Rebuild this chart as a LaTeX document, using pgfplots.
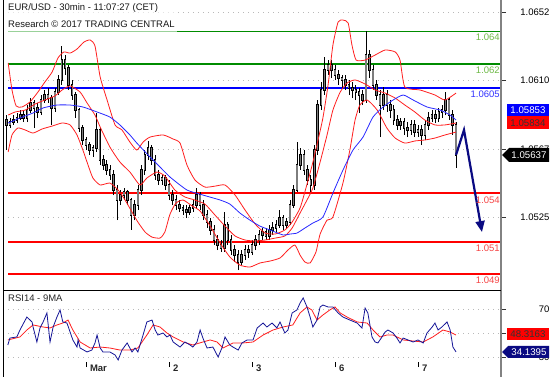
\documentclass[border=0pt]{standalone}
\usepackage{pgfplots}
\pgfplotsset{compat=1.18}
\usepackage{pgfplotstable}
\usepackage{fontspec}
\setmainfont{Liberation Sans}
\usetikzlibrary{arrows.meta}

\definecolor{lvgreen}{RGB}{0,140,0}
\definecolor{lvgreenlab}{RGB}{110,185,70}
\definecolor{lvblue}{RGB}{0,0,255}
\definecolor{lvbluelab}{RGB}{50,50,255}
\definecolor{lvred}{RGB}{255,0,0}
\definecolor{lvredlab}{RGB}{245,70,70}
\definecolor{bbred}{RGB}{255,30,30}
\definecolor{mablue}{RGB}{40,40,255}
\definecolor{navyc}{RGB}{10,10,130}
\definecolor{rsiblue}{RGB}{20,20,150}
\definecolor{candlegray}{RGB}{125,125,125}
\definecolor{gridgray}{RGB}{185,185,185}
\definecolor{axisgray}{RGB}{130,130,130}

\pgfplotstableread{
t o h l c
1 1.05852 1.05883 1.05667 1.05822
2 1.05822 1.05865 1.05803 1.05840
3 1.05840 1.05883 1.05822 1.05852
4 1.05852 1.05896 1.05834 1.05865
5 1.05865 1.05914 1.05852 1.05883
6 1.05883 1.05914 1.05840 1.05865
7 1.05865 1.05945 1.05840 1.05914
8 1.05914 1.05988 1.05896 1.05958
9 1.05958 1.05976 1.05803 1.05927
10 1.05927 1.05958 1.05865 1.05902
11 1.05902 1.06007 1.05883 1.05976
12 1.05976 1.06038 1.05958 1.06007
13 1.06007 1.06050 1.05958 1.05988
14 1.05988 1.06007 1.05822 1.05927
15 1.05927 1.06050 1.05902 1.06025
16 1.06025 1.06131 1.06007 1.06100
17 1.06100 1.06310 1.06069 1.06223
18 1.06223 1.06254 1.06131 1.06174
19 1.06174 1.06192 1.06038 1.06069
20 1.06069 1.06100 1.05976 1.06007
21 1.06007 1.06025 1.05865 1.05914
22 1.05914 1.05927 1.05778 1.05803
23 1.05803 1.05822 1.05698 1.05729
24 1.05729 1.05747 1.05667 1.05698
25 1.05698 1.05716 1.05636 1.05667
26 1.05667 1.05698 1.05624 1.05679
27 1.05679 1.05896 1.05655 1.05791
28 1.05791 1.05803 1.05574 1.05605
29 1.05605 1.05636 1.05543 1.05574
30 1.05574 1.05605 1.05513 1.05543
31 1.05543 1.05574 1.05482 1.05513
32 1.05513 1.05543 1.05389 1.05420
33 1.05420 1.05451 1.05234 1.05358
34 1.05358 1.05420 1.05327 1.05389
35 1.05389 1.05432 1.05358 1.05407
36 1.05407 1.05420 1.05327 1.05358
37 1.05358 1.05370 1.05173 1.05265
38 1.05265 1.05358 1.05234 1.05327
39 1.05327 1.05451 1.05296 1.05420
40 1.05420 1.05574 1.05389 1.05543
41 1.05543 1.05667 1.05513 1.05636
42 1.05636 1.05723 1.05605 1.05679
43 1.05679 1.05698 1.05574 1.05605
44 1.05605 1.05636 1.05482 1.05513
45 1.05513 1.05543 1.05451 1.05482
46 1.05482 1.05513 1.05451 1.05494
47 1.05494 1.05513 1.05420 1.05451
48 1.05451 1.05482 1.05358 1.05389
49 1.05389 1.05420 1.05327 1.05358
50 1.05358 1.05389 1.05296 1.05327
51 1.05327 1.05358 1.05284 1.05309
52 1.05309 1.05327 1.05265 1.05296
53 1.05296 1.05327 1.05247 1.05284
54 1.05284 1.05327 1.05265 1.05309
55 1.05309 1.05358 1.05284 1.05327
56 1.05327 1.05432 1.05309 1.05389
57 1.05389 1.05407 1.05296 1.05327
58 1.05327 1.05358 1.05234 1.05265
59 1.05265 1.05296 1.05185 1.05222
60 1.05222 1.05247 1.05142 1.05173
61 1.05173 1.05204 1.05080 1.05111
62 1.05111 1.05142 1.05049 1.05080
63 1.05080 1.05111 1.05037 1.05061
64 1.05061 1.05284 1.05037 1.05204
65 1.05204 1.05222 1.05080 1.05111
66 1.05111 1.05142 1.05018 1.05049
67 1.05049 1.05080 1.04975 1.05018
68 1.05018 1.05049 1.04925 1.04975
69 1.04975 1.05049 1.04956 1.05018
70 1.05018 1.05080 1.04987 1.05049
71 1.05049 1.05080 1.05000 1.05037
72 1.05037 1.05111 1.05018 1.05080
73 1.05080 1.05142 1.05049 1.05111
74 1.05111 1.05173 1.05080 1.05142
75 1.05142 1.05185 1.05111 1.05160
76 1.05160 1.05185 1.05111 1.05136
77 1.05136 1.05204 1.05111 1.05173
78 1.05173 1.05222 1.05142 1.05185
79 1.05185 1.05234 1.05160 1.05204
80 1.05204 1.05296 1.05185 1.05247
81 1.05247 1.05265 1.05173 1.05204
82 1.05204 1.05247 1.05185 1.05222
83 1.05222 1.05358 1.05204 1.05327
84 1.05327 1.05451 1.05309 1.05420
85 1.05420 1.05716 1.05407 1.05574
86 1.05574 1.05679 1.05543 1.05636
87 1.05636 1.05667 1.05513 1.05543
88 1.05543 1.05574 1.05451 1.05482
89 1.05482 1.05513 1.05407 1.05451
90 1.05451 1.05698 1.05420 1.05667
91 1.05667 1.05976 1.05636 1.05945
92 1.05945 1.06087 1.05914 1.06038
93 1.06038 1.06242 1.06007 1.06161
94 1.06161 1.06223 1.06131 1.06192
95 1.06192 1.06223 1.06112 1.06161
96 1.06161 1.06192 1.06100 1.06131
97 1.06131 1.06161 1.06069 1.06112
98 1.06112 1.06131 1.06050 1.06100
99 1.06100 1.06131 1.06038 1.06069
100 1.06069 1.06100 1.06007 1.06050
101 1.06050 1.06087 1.05988 1.06038
102 1.06038 1.06069 1.05976 1.06025
103 1.06025 1.06050 1.05896 1.06007
104 1.06007 1.06038 1.05945 1.05976
105 1.05976 1.06402 1.05958 1.06254
106 1.06254 1.06285 1.06112 1.06161
107 1.06161 1.06192 1.06038 1.06069
108 1.06069 1.06100 1.05976 1.06007
109 1.06007 1.06038 1.05747 1.05945
110 1.05945 1.06056 1.05914 1.06007
111 1.06007 1.06038 1.05902 1.05945
112 1.05945 1.05976 1.05865 1.05914
113 1.05914 1.05945 1.05822 1.05852
114 1.05852 1.05883 1.05791 1.05822
115 1.05822 1.05865 1.05791 1.05840
116 1.05840 1.05865 1.05760 1.05803
117 1.05803 1.05840 1.05747 1.05791
118 1.05791 1.05852 1.05760 1.05822
119 1.05822 1.05852 1.05747 1.05778
120 1.05778 1.05822 1.05747 1.05791
121 1.05791 1.05822 1.05698 1.05760
122 1.05760 1.05852 1.05729 1.05822
123 1.05822 1.05902 1.05791 1.05865
124 1.05865 1.05914 1.05840 1.05883
125 1.05883 1.05914 1.05834 1.05865
126 1.05865 1.05927 1.05840 1.05902
127 1.05902 1.05945 1.05865 1.05914
128 1.05914 1.06025 1.05883 1.05976
129 1.05976 1.05988 1.05852 1.05883
130 1.05883 1.05914 1.05760 1.05822
131 1.05822 1.05840 1.05556 1.05637
}\candles
\pgfplotstablecreatecol[expr={min(\thisrow{o},\thisrow{c})}]{bot}\candles
\pgfplotstablecreatecol[expr={abs(\thisrow{c}-\thisrow{o})}]{body}\candles
\pgfplotstablecreatecol[expr={\thisrow{h}-\thisrow{l}}]{rng}\candles

\newcommand{\lab}{\fontsize{9.5}{11}\selectfont}
\newcommand{\tagf}{\fontsize{9.7}{11}\selectfont}

\begin{document}
\begin{tikzpicture}
\useasboundingbox (0,0) rectangle (558pt,-377pt);

% ---------------- main price panel ----------------
\begin{axis}[
  at={(3pt,0pt)}, anchor=north west,
  width=498pt, height=291pt, scale only axis,
  xmin=0, xmax=144, ymin=1.04796, ymax=1.06594,
  axis x line=none, axis y line*=right,
  y axis line style={draw=none},
  ytick={1.0525,1.0567,1.0610,1.0652},
  yticklabels={1.0525,1.0567,1.0610,1.0652},
  ytick align=outside, major tick length=5pt,
  ytick style={black!80, line width=0.8pt},
  yticklabel style={anchor=east, xshift=47pt, font=\lab, text=black},
  ymajorgrids, grid style={gridgray, line width=0.8pt, dash pattern=on 1pt off 4pt},
]
% horizontal levels
\addplot[lvgreen, line width=1.6pt] coordinates {(1.5,1.064) (144,1.064)};
\addplot[lvgreen, line width=1.6pt] coordinates {(1.5,1.062) (144,1.062)};
\addplot[lvblue, line width=1.6pt] coordinates {(1.5,1.0605) (144,1.0605)};
\addplot[lvred, line width=1.6pt] coordinates {(1.5,1.054) (144,1.054)};
\addplot[lvred, line width=1.6pt] coordinates {(1.5,1.051) (144,1.051)};
\addplot[lvred, line width=1.6pt] coordinates {(1.5,1.049) (144,1.049)};

% candle wicks
\addplot[draw=none, mark=none, error bars/.cd, y dir=plus, y explicit, error mark=none,
  error bar style={draw=black, line width=0.6pt}]
  table[x=t, y=l, y error plus=rng] {\candles};
% candle bodies (outline)
\addplot[draw=none, mark=none, error bars/.cd, y dir=plus, y explicit, error mark=none,
  error bar style={draw=black, line width=2.5pt, line cap=rect}]
  table[x=t, y=bot, y error plus=body] {\candles};
% candle bodies (fill)
\addplot[draw=none, mark=none, error bars/.cd, y dir=plus, y explicit, error mark=none,
  error bar style={draw=candlegray, line width=1.3pt, line cap=butt}]
  table[x=t, y=bot, y error plus=body] {\candles};

% Bollinger upper
\addplot[bbred, line width=0.8pt, smooth, tension=0.35] coordinates {
(1.5,1.06205) (2.6,1.06038) (3.8,1.05939) (5.5,1.05933) (7.8,1.05964) (10.1,1.06025)
(12.1,1.06087) (14.2,1.06149) (15.9,1.06236) (17.6,1.06273) (19.4,1.06266) (21.4,1.06291)
(23.4,1.06334) (25.2,1.06347) (26.6,1.06310) (28.1,1.06118) (30.1,1.05976) (32.4,1.05822)
(34.4,1.05791) (36.7,1.05716) (38.7,1.05667) (40.5,1.05716) (42.5,1.05747) (46.3,1.05760)
(49.2,1.05735) (51.2,1.05710) (53.2,1.05574) (55.5,1.05482) (58.4,1.05438) (61.3,1.05444)
(64.2,1.05451) (67.1,1.05389) (70.0,1.05296) (72.9,1.05210) (75.8,1.05154) (78.7,1.05148)
(81.5,1.05173) (83.6,1.05222) (85.9,1.05309) (87.6,1.05432) (89.4,1.05574) (91.1,1.05729)
(92.5,1.05865) (94.0,1.06069) (95.4,1.06316) (96.9,1.06458) (98.3,1.06470) (99.8,1.06452)
(100.9,1.06316) (102.1,1.06223) (104.7,1.06223) (107.6,1.06254) (110.5,1.06285) (113.4,1.06273)
(114.8,1.06223) (116.2,1.06056) (120.6,1.06038) (124.9,1.06007) (127.8,1.05976) (131.0,1.06019)};
% Bollinger middle
\addplot[bbred, line width=0.8pt, smooth, tension=0.35] coordinates {
(1.5,1.05883) (3.5,1.05902) (6.4,1.05914) (9.3,1.05951) (12.1,1.05976) (15.0,1.06001)
(17.1,1.06038) (19.4,1.06063) (22.3,1.06025) (24.3,1.05958) (26.6,1.05883) (28.1,1.05809)
(30.9,1.05686) (33.8,1.05593) (36.7,1.05531) (39.6,1.05451) (41.6,1.05494) (44.5,1.05531)
(46.8,1.05506) (49.7,1.05420) (52.6,1.05377) (55.5,1.05358) (58.4,1.05333) (61.3,1.05265)
(64.2,1.05197) (67.1,1.05136) (70.0,1.05111) (72.9,1.05105) (75.8,1.05111) (78.7,1.05123)
(81.5,1.05136) (83.6,1.05185) (85.9,1.05278) (87.9,1.05358) (89.6,1.05432) (91.7,1.05593)
(93.7,1.05760) (95.4,1.05914) (97.5,1.06025) (99.5,1.06081) (101.8,1.06100) (104.7,1.06075)
(107.6,1.06038) (110.5,1.06019) (113.4,1.05988) (116.2,1.05945) (119.1,1.05902) (122.0,1.05852)
(124.9,1.05822) (127.8,1.05822) (131.0,1.05834)};
% Bollinger lower
\addplot[bbred, line width=0.8pt, smooth, tension=0.35] coordinates {
(1.5,1.05655) (2.6,1.05760) (4.3,1.05803) (6.4,1.05791) (8.7,1.05772) (11.3,1.05797)
(14.2,1.05815) (17.1,1.05834) (19.4,1.05822) (21.4,1.05760) (23.1,1.05667) (24.6,1.05574)
(26.0,1.05494) (28.1,1.05451) (30.9,1.05463) (33.3,1.05420) (35.3,1.05358) (37.3,1.05284)
(39.0,1.05222) (41.1,1.05160) (43.1,1.05129) (45.4,1.05123) (46.8,1.05160) (48.3,1.05271)
(50.0,1.05339) (52.1,1.05358) (54.7,1.05321) (57.0,1.05290) (59.9,1.05197) (62.8,1.05092)
(65.6,1.05006) (68.5,1.04956) (71.4,1.04944) (74.3,1.04969) (77.2,1.04981) (80.1,1.05000)
(82.4,1.05049) (84.4,1.05080) (85.9,1.05018) (87.3,1.04975) (88.8,1.04969) (90.5,1.05037)
(91.7,1.05148) (93.7,1.05234) (95.4,1.05253) (98.3,1.05463) (100.3,1.05667) (101.8,1.05852)
(103.2,1.05945) (105.3,1.05976) (108.2,1.05914) (111.0,1.05803) (113.4,1.05741) (116.2,1.05710)
(119.1,1.05723) (122.0,1.05729) (124.9,1.05741) (127.8,1.05760) (131.0,1.05778)};
% moving average (blue)
\addplot[mablue, line width=0.8pt, smooth, tension=0.35] coordinates {
(1.5,1.05834) (4.9,1.05865) (8.7,1.05896) (11.6,1.05927) (15.6,1.05945) (19.4,1.05945)
(23.1,1.05933) (27.2,1.05902) (30.9,1.05871) (33.8,1.05822) (36.7,1.05760) (38.7,1.05710)
(42.5,1.05624) (45.4,1.05562) (48.3,1.05500) (53.2,1.05420) (57.8,1.05389) (62.8,1.05358)
(65.6,1.05333) (68.5,1.05278) (71.4,1.05234) (74.3,1.05197) (77.2,1.05173) (81.0,1.05142)
(83.0,1.05148) (85.0,1.05154) (87.3,1.05185) (89.6,1.05216) (92.5,1.05253) (95.4,1.05401)
(98.3,1.05543) (101.2,1.05667) (104.1,1.05747) (107.0,1.05871) (109.9,1.05933) (112.8,1.05976)
(115.7,1.06007) (118.6,1.05976) (122.6,1.05933) (126.4,1.05914) (129.3,1.05883) (131.0,1.05852)};

% projected path arrow
\addplot[navyc, line width=2.2pt, -{Triangle[length=11pt,width=9pt]}] coordinates {
(131,1.05637) (133.3,1.05791) (138.5,1.05160)};

% level labels
\node[anchor=north east, inner sep=0, text=lvgreenlab, font=\lab] at (axis cs:143.7,1.064) [yshift=-2.5pt] {1.064};
\node[anchor=north east, inner sep=0, text=lvgreenlab, font=\lab] at (axis cs:143.7,1.062) [yshift=-2.5pt] {1.062};
\node[anchor=north east, inner sep=0, text=lvbluelab, font=\lab] at (axis cs:143.7,1.0605) [yshift=-2.5pt] {1.0605};
\node[anchor=north east, inner sep=0, text=lvredlab, font=\lab] at (axis cs:143.7,1.054) [yshift=-3pt] {1.054};
\node[anchor=north east, inner sep=0, text=lvredlab, font=\lab] at (axis cs:143.7,1.051) [yshift=-3pt] {1.051};
\node[anchor=north east, inner sep=0, text=lvredlab, font=\lab] at (axis cs:143.7,1.049) [yshift=-3pt] {1.049};
\end{axis}

% ---------------- RSI panel ----------------
\begin{axis}[
  at={(3pt,-291pt)}, anchor=north west,
  width=498pt, height=71pt, scale only axis,
  xmin=0, xmax=144, ymin=25.83, ymax=85,
  axis x line*=bottom, axis y line*=right,
  x axis line style={draw=none}, y axis line style={draw=none},
  xtick={24,48,72,96,120}, xticklabels={Mar,2,3,6,7},
  ytick={30,50,70}, yticklabels={30,50,70},
  tick align=outside, major tick length=5pt,
  xtick style={black, line width=0.7pt},
  ytick style={black!80, line width=0.8pt},
  xticklabel style={anchor=north west, xshift=0.5pt, yshift=5.5pt, font=\bfseries\lab, text=black!85},
  yticklabel style={anchor=east, xshift=47pt, font=\lab, text=black},
  ymajorgrids, grid style={gridgray, line width=0.8pt, dash pattern=on 1pt off 4pt},
]
\addplot[bbred, line width=0.8pt] coordinates {
(1.4,44.2) (4.9,46.7) (6.9,52.5) (8.7,56.7) (11.6,55.0) (13.6,54.2) (15.6,56.7) (17.3,58.3)
(18.8,60.8) (20.2,52.5) (22.3,42.5) (25.2,37.5) (28.1,38.3) (30.9,37.5) (33.8,35.8) (36.7,35.8)
(39.0,37.5) (41.6,48.3) (43.4,56.7) (45.4,55.0) (47.4,50.0) (49.2,46.7) (52.1,42.5) (54.9,40.0)
(57.8,42.5) (59.9,44.2) (61.9,42.5) (63.6,37.5) (66.5,41.7) (69.4,41.7) (72.3,42.5) (75.2,48.3)
(78.1,52.5) (81.0,55.0) (83.8,56.7) (85.9,66.7) (87.9,71.7) (89.3,69.2) (90.8,60.8) (92.5,65.0)
(94.5,69.2) (96.0,71.7) (97.5,66.7) (99.5,63.3) (102.4,59.2) (105.3,58.3) (107.0,52.5) (109.0,46.7)
(111.0,48.3) (112.8,48.3) (115.7,44.2) (118.6,43.3) (121.5,42.5) (124.3,46.7) (127.2,52.5)
(129.3,50.8) (131.0,48.3)};
\addplot[rsiblue, line width=0.8pt] coordinates {
(1.4,40.0) (2.0,45.8) (4.0,46.7) (4.9,52.5) (6.9,63.3) (8.4,59.2) (8.7,55.0) (9.8,42.5)
(10.7,54.2) (11.6,59.2) (12.7,66.7) (13.6,42.5) (14.5,55.0) (15.6,63.3) (16.5,69.2) (17.3,59.2)
(18.5,58.3) (19.4,50.8) (20.2,44.2) (21.4,38.3) (21.7,44.2) (22.3,37.5) (24.3,34.2) (25.7,35.8)
(26.6,41.7) (27.2,48.3) (28.1,37.5) (28.9,34.2) (30.9,34.2) (32.4,31.7) (33.3,27.5) (34.4,35.8)
(35.9,41.7) (37.3,34.2) (38.2,37.5) (39.0,34.2) (40.5,48.3) (41.6,59.2) (43.1,60.8) (44.0,52.5)
(44.8,48.3) (46.3,50.0) (47.4,46.7) (48.3,48.3) (49.2,42.5) (51.2,38.3) (52.6,42.5) (54.1,40.0)
(54.9,38.3) (56.1,42.5) (57.0,52.5) (57.8,45.8) (59.0,37.5) (60.7,38.3) (62.2,30.0) (63.3,37.5)
(64.2,46.7) (65.6,40.0) (66.5,38.3) (68.0,35.8) (69.1,41.7) (70.6,44.2) (72.3,44.2) (73.5,54.2)
(75.2,58.3) (76.3,55.0) (77.8,58.3) (79.2,54.2) (80.1,59.2) (81.5,50.0) (82.4,52.5) (83.6,66.7)
(85.0,69.2) (85.9,75.0) (86.8,79.2) (87.9,71.7) (88.8,63.3) (89.6,55.0) (90.8,60.8) (91.7,71.7)
(92.5,73.3) (94.0,71.7) (95.4,71.7) (96.9,66.7) (98.3,63.3) (100.3,60.8) (102.4,58.3) (103.8,54.2)
(104.7,70.8) (105.5,66.7) (106.7,46.7) (107.6,42.5) (108.4,41.7) (109.6,46.7) (110.5,50.8)
(111.3,52.5) (112.8,50.0) (113.9,45.8) (114.8,41.7) (115.7,45.8) (117.1,44.2) (118.6,42.5)
(120.0,44.2) (121.5,41.7) (122.6,50.0) (124.1,55.0) (124.9,58.3) (125.8,52.5) (126.9,55.0)
(128.4,59.2) (129.3,52.5) (130.1,38.3) (131.0,34.2)};
\end{axis}

% frame
\draw[black, line width=1.3pt] (3.3pt,0pt) -- (3.3pt,-377pt);
\draw[axisgray, line width=1.6pt] (501pt,0pt) -- (501pt,-377pt);
\draw[black, line width=1pt] (3.3pt,-291pt) -- (501pt,-291pt);

% title
\fill[white, opacity=0.6] (4pt,0pt) rectangle (177pt,-32.5pt);
\node[anchor=base west, inner sep=0, font=\lab, text=black!90] at (8pt,-10.5pt) {EUR/USD - 30min - 11:07:27 (CET)};
\node[anchor=base west, inner sep=0, font=\lab, text=black!90] at (8pt,-28pt) {Research © 2017 TRADING CENTRAL};
\node[anchor=base west, inner sep=0, font=\lab, text=black!85] at (8pt,-302pt) {RSI14 - 9MA};

% value tags
\fill[blue] (507pt,-104pt) rectangle (549pt,-116.5pt);
\node[text=white, font=\tagf, inner sep=0] at (528pt,-110.3pt) {1.05853};
\fill[red] (507pt,-116.5pt) rectangle (549pt,-129pt);
\node[text=black!80, font=\tagf, inner sep=0] at (528pt,-122.8pt) {1.05834};
\fill[black] (502pt,-155pt) -- (509pt,-148pt) -- (549pt,-148pt) -- (549pt,-162pt) -- (509pt,-162pt) -- cycle;
\node[text=white, font=\tagf, inner sep=0] at (529pt,-155pt) {1.05637};
\fill[red] (507pt,-328.5pt) rectangle (549pt,-340pt);
\node[text=black!80, font=\tagf, inner sep=0] at (528pt,-334.3pt) {48.3163};
\fill[navyc] (502pt,-352pt) -- (508pt,-346pt) -- (549pt,-346pt) -- (549pt,-358pt) -- (508pt,-358pt) -- cycle;
\node[text=white, font=\tagf, inner sep=0] at (529pt,-352pt) {34.1395};
\end{tikzpicture}
\end{document}
